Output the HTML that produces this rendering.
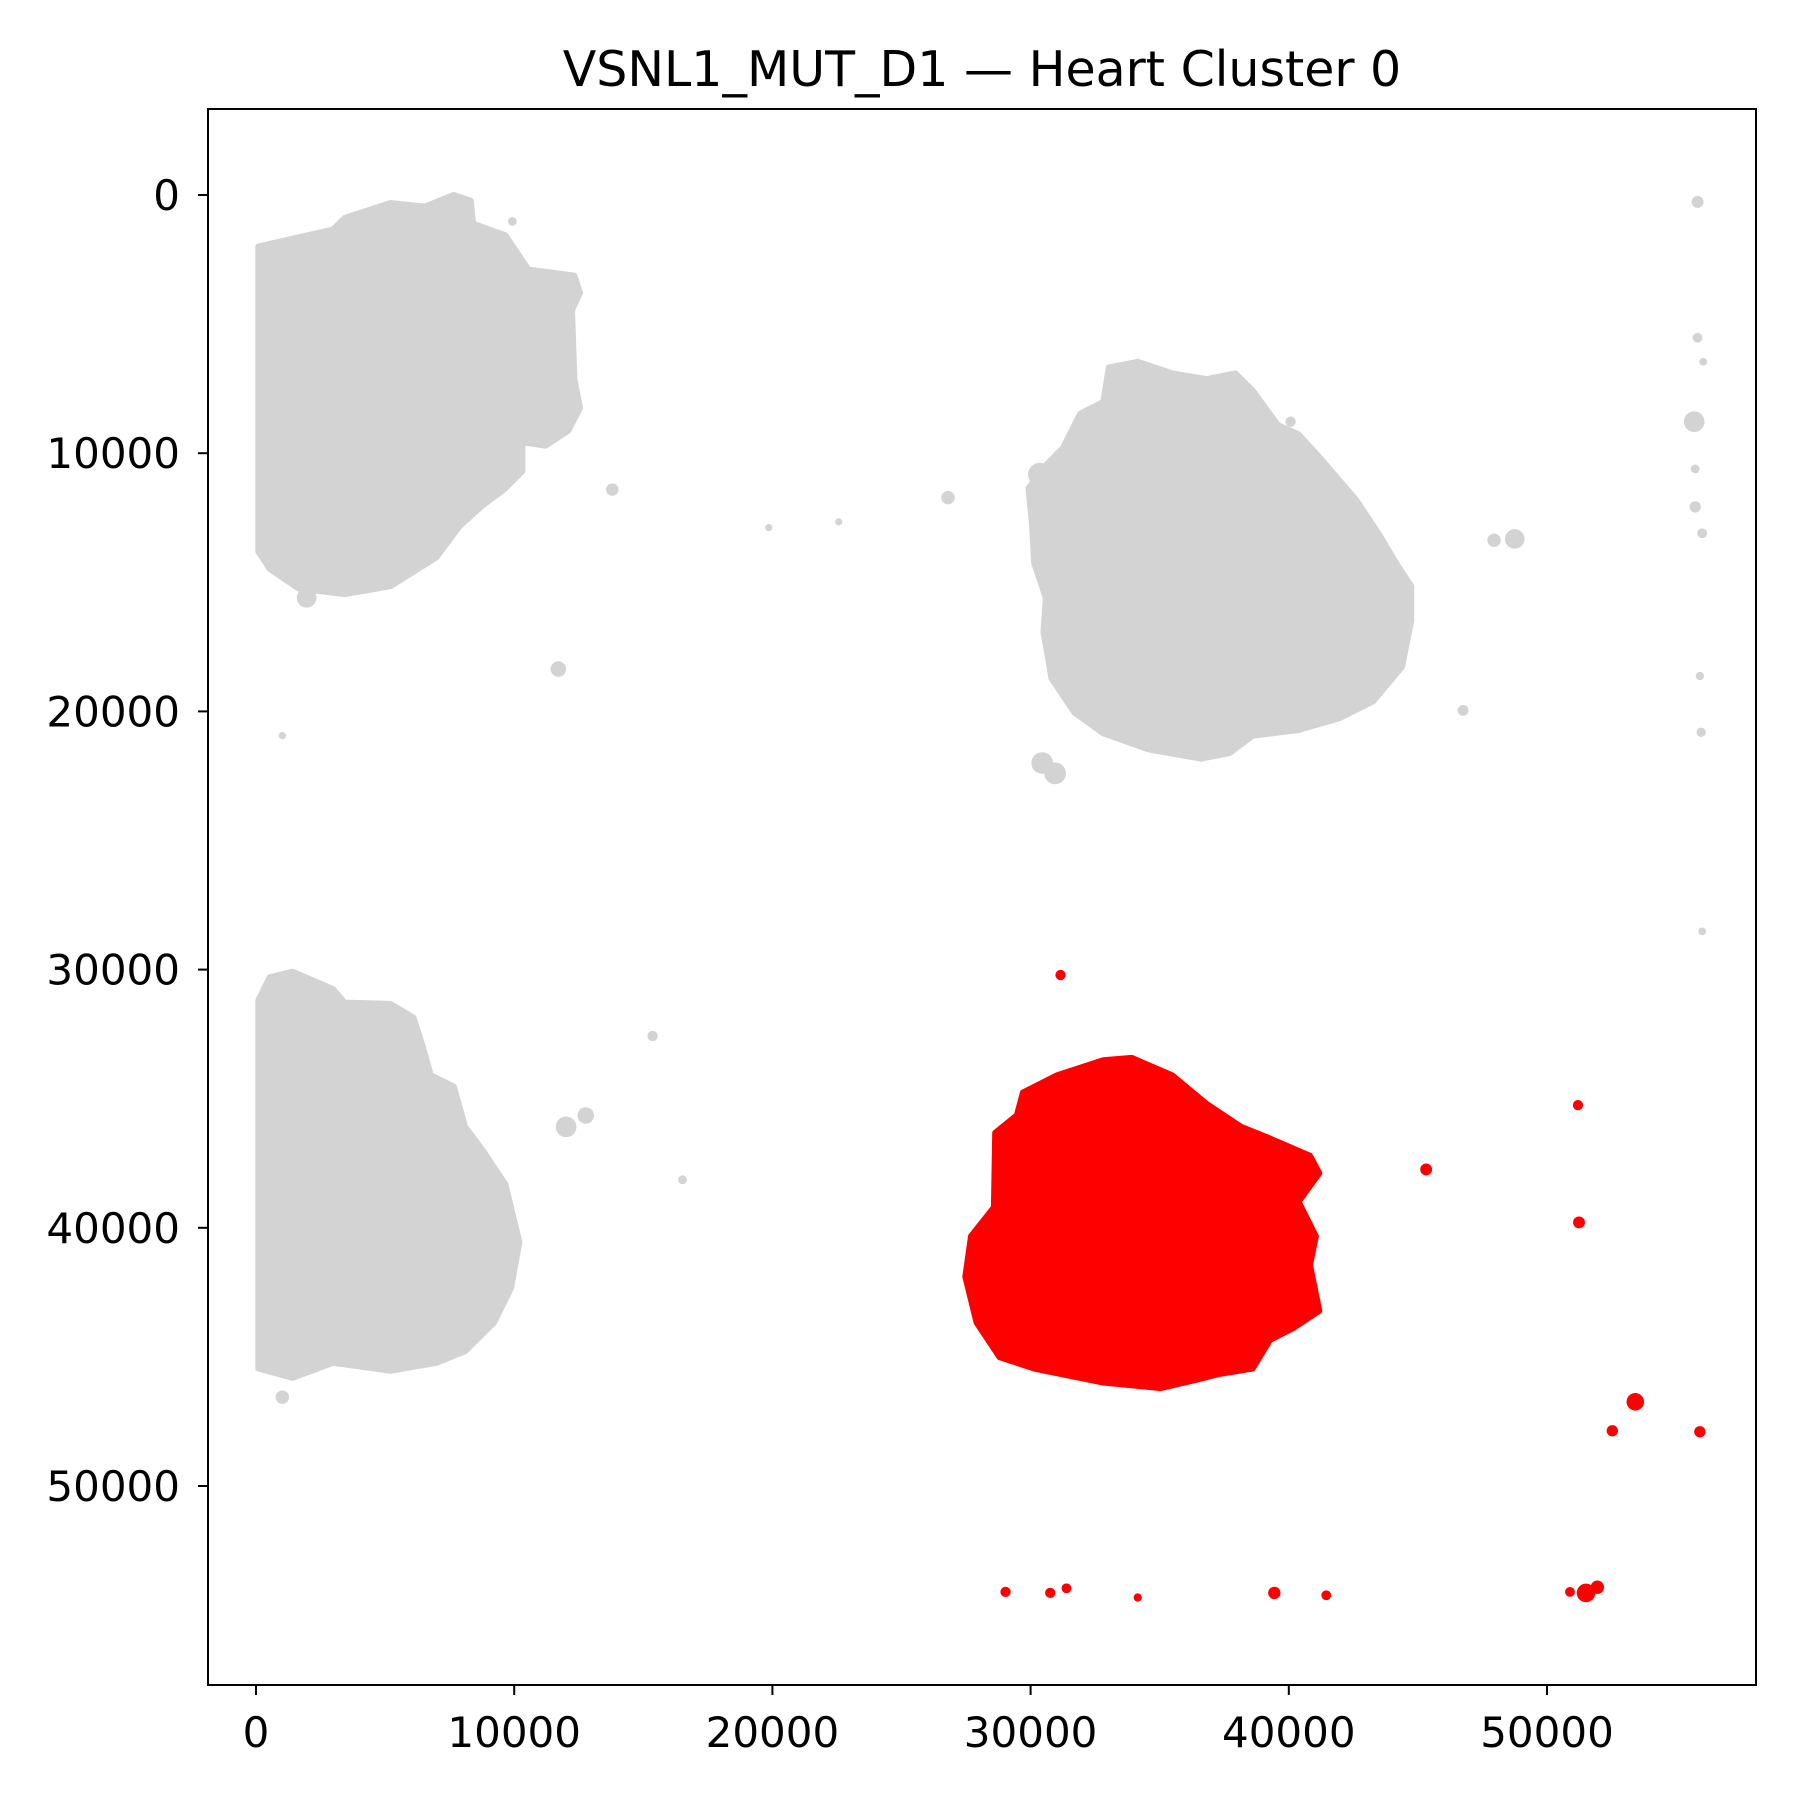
<!DOCTYPE html>
<html><head><meta charset="utf-8"><style>
html,body{margin:0;padding:0;background:#fff;}
svg{display:block;font-family:"DejaVu Sans","Liberation Sans",sans-serif;}
</style></head><body>
<svg id="chart" width="1800" height="1800" xmlns="http://www.w3.org/2000/svg">
<rect x="0" y="0" width="1800" height="1800" fill="#fff"/>
<text x="982" y="86" font-size="49" text-anchor="middle" fill="#000">VSNL1_MUT_D1 — Heart Cluster 0</text>
<g id="marks"></g>
<g id="axes"></g>
</svg>
<script>
const xTicks = [0, 10000, 20000, 30000, 40000, 50000];
const yTicks = [0, 10000, 20000, 30000, 40000, 50000];
const greyBlobTL = [[90,2000],[2980,1340],[3430,890],[5210,310],[6540,450],[7650,0],[8320,220],[8410,1110],[9660,1560],[10550,2890],[12330,3120],[12550,3790],[12240,4460],[12330,7130],[12550,8240],[12100,9130],[11210,9710],[10320,9570],[10320,10690],[9660,11360],[8770,12030],[7880,12830],[6990,14030],[5210,15150],[3430,15460],[1650,15240],[530,14480],[90,13810]];
const greyBlobTR = [[32810,8020],[33030,6680],[34150,6460],[35480,6910],[36820,7130],[37930,6910],[38600,7570],[39580,8910],[40380,9270],[41270,10250],[42610,11810],[43500,13150],[44160,14260],[44740,15150],[44740,16490],[44390,18270],[43270,19610],[41940,20270],[40380,20720],[38600,20940],[37710,21610],[36600,21830],[34590,21480],[32810,20850],[31700,20050],[30810,18720],[30500,16930],[30590,15600],[30140,14260],[30050,12700],[29920,11360],[30590,10470],[31250,9800],[31920,8470]];
const greyBlobBL = [[90,31190],[530,30300],[1420,30080],[2980,30750],[3430,31280],[5210,31330],[6100,31860],[6460,32980],[6770,34090],[7660,34530],[8100,36090],[8770,36980],[9660,38320],[10200,40550],[9880,42330],[9220,43670],[8100,44780],[6990,45230],[5210,45540],[2980,45230],[1420,45810],[90,45450]];
const redBlob = [[29700,34760],[31030,34090],[32810,33510],[33920,33420],[35480,34090],[36820,35200],[38150,36090],[39270,36540],[40820,37210],[41180,37880],[40380,38990],[41050,40330],[40820,41440],[41180,43220],[40160,43890],[39270,44340],[38600,45450],[37260,45670],[36370,45900],[35040,46210],[32810,45990],[30140,45450],[28800,45010],[27910,43670],[27470,41890],[27690,40330],[28580,39210],[28630,36320],[29470,35640]];
const greyX = [9930,13800,19860,22570,26800,1960,11710,1020,30450,30950,30360,47950,48750,46750,40070,55830,55830,56050,55700,55740,55740,56010,55920,55970,56010,15360,12010,12770,16520,1020];
const greyY = [1020,11410,12880,12660,11720,15600,18360,20940,22000,22400,10830,13370,13320,19960,8780,270,5530,6460,8780,10610,12080,13100,18630,20810,28520,32570,36090,35650,38140,46560];
const greyR = [170,240,140,140,260,380,300,140,420,420,460,260,380,210,200,230,190,150,400,170,220,190,160,180,150,200,400,320,170,260];
const redX = [31160,51200,45320,51240,53420,52530,55920,29030,30760,31390,34150,39440,41450,50890,51510,51950];
const redY = [30210,35250,37740,39790,46740,47860,47900,54100,54140,53960,54320,54140,54230,54100,54140,53920];
const redR = [200,200,230,230,340,220,220,200,200,190,160,240,190,190,360,260];

const X0 = 256, Y0 = 195, K = 1291/50000;
const AX = {l:208, r:1756, t:109, b:1685};
function sx(v){return X0 + v*K;}
function sy(v){return Y0 + v*K;}
const NS = "http://www.w3.org/2000/svg";
const marks = document.getElementById('marks');
const axes = document.getElementById('axes');
function mk(tag, attrs, parent){const e=document.createElementNS(NS,tag);for(const k in attrs)e.setAttribute(k,attrs[k]);parent.appendChild(e);return e;}

function blob(pts, color, name){
  const p = mk('polygon',{points:pts.map(q=>sx(q[0]).toFixed(1)+','+sy(q[1]).toFixed(1)).join(' '),fill:color,stroke:color,'stroke-width':6,'stroke-linejoin':'round'},marks);
  
  
}
blob(greyBlobTL,'#d3d3d3','grey-cluster-top-left');
blob(greyBlobTR,'#d3d3d3','grey-cluster-top-right');
blob(greyBlobBL,'#d3d3d3','grey-cluster-bottom-left');
blob(redBlob,'#ff0000','red-cluster-main');
greyX.forEach((x,i)=>{
  const c = mk('circle',{cx:sx(x),cy:sy(greyY[i]),r:Math.max(3,greyR[i]*K),fill:'#d3d3d3'},marks);
  
  
});
redX.forEach((x,i)=>{
  const c = mk('circle',{cx:sx(x),cy:sy(redY[i]),r:Math.max(3,redR[i]*K),fill:'#ff0000'},marks);
  
  
});

const frame = mk('rect',{x:AX.l,y:AX.t,width:AX.r-AX.l,height:AX.b-AX.t,fill:'none',stroke:'#000','stroke-width':2},axes);


xTicks.forEach(v=>{
  const t = mk('line',{x1:sx(v),x2:sx(v),y1:AX.b,y2:AX.b+10,stroke:'#000','stroke-width':2},axes);
  
  
  const l = mk('text',{x:sx(v),y:AX.b+62,'font-size':42,'text-anchor':'middle',fill:'#000'},axes);
  l.textContent = v;
  
  
});
yTicks.forEach(v=>{
  const t = mk('line',{x1:AX.l-10,x2:AX.l,y1:sy(v),y2:sy(v),stroke:'#000','stroke-width':2},axes);
  
  
  const l = mk('text',{x:AX.l-28,y:sy(v)+15,'font-size':42,'text-anchor':'end',fill:'#000'},axes);
  l.textContent = v;
  
  
});
</script>
</body></html>
